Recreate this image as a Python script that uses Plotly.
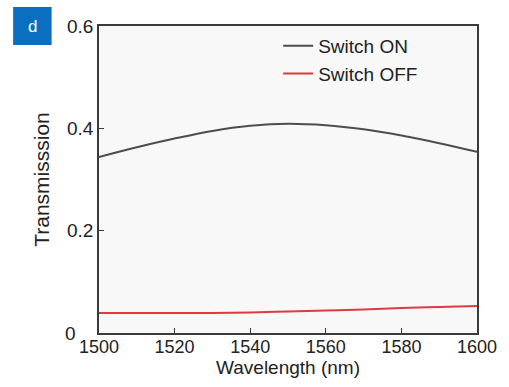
import plotly.graph_objects as go

wavelength = [1500, 1510, 1520, 1530, 1540, 1550, 1560, 1570, 1580, 1590, 1600]
switch_on = [0.344, 0.363, 0.380, 0.395, 0.405, 0.409, 0.406, 0.398, 0.386, 0.371, 0.354]
switch_off = [0.039, 0.039, 0.039, 0.039, 0.040, 0.042, 0.044, 0.046, 0.049, 0.051, 0.053]
x_ticks = [1500, 1520, 1540, 1560, 1580, 1600]
y_ticks = [0, 0.2, 0.4, 0.6]
y_tick_text = ["", "0.2", "0.4", "0.6"]
y_zero_label = "0"

fig = go.Figure()
fig.add_trace(go.Scatter(x=wavelength, y=switch_on, mode="lines", name="Switch ON",
                         line=dict(color="#4d4d4d", width=2, shape="spline")))
fig.add_trace(go.Scatter(x=wavelength, y=switch_off, mode="lines", name="Switch OFF",
                         line=dict(color="#dc3b3f", width=2, shape="spline")))

axis_common = dict(showline=True, linecolor="#3a3a3a", linewidth=1.6, mirror=True,
                   ticks="inside", ticklen=5, tickcolor="#3a3a3a", tickwidth=1.4,
                   showgrid=False, zeroline=False)
fig.update_xaxes(range=[1500, 1600], tickvals=x_ticks, ticklabelstandoff=-3,
                 tickfont=dict(size=18, color="#222"),
                 title=dict(text="Wavelength (nm)", font=dict(size=19, color="#222"), standoff=0),
                 **axis_common)
fig.update_yaxes(range=[0, 0.6], tickvals=y_ticks, ticktext=y_tick_text,
                 tickfont=dict(size=19, color="#222"),
                 title=dict(text="Transmisssion", font=dict(size=21, color="#222"), standoff=12),
                 **axis_common)

# left-aligned "0" tick label as in the reference
fig.add_annotation(x=-0.096, y=y_ticks[0], xref="paper", yref="y", text=y_zero_label,
                   showarrow=False, xanchor="left", yanchor="middle",
                   font=dict(size=19, color="#222"))

fig.add_shape(type="rect", xref="paper", yref="paper", x0=-0.2272, x1=-0.1253, y0=1.0619, y1=0.9381,
              fillcolor="#0b6fc0", line=dict(width=0), layer="above")
fig.add_annotation(x=-0.176, y=1.0, xref="paper", yref="paper", text="d", showarrow=False,
                   font=dict(size=17, color="white"), xanchor="center", yanchor="middle")

fig.update_layout(
    width=509, height=387,
    margin=dict(l=99, r=27, t=26, b=54),
    paper_bgcolor="white", plot_bgcolor="#f8f8f8",
    font=dict(family="Liberation Sans, Arial, sans-serif", color="#222"),
    legend=dict(x=0.474, y=0.997, xanchor="left", yanchor="top", bgcolor="rgba(0,0,0,0)",
                font=dict(size=19, color="#222"), tracegroupgap=0),
    showlegend=True,
)
fig.write_html("out.html", config={"displayModeBar": False},
               post_script="document.body.style.margin='0';")
